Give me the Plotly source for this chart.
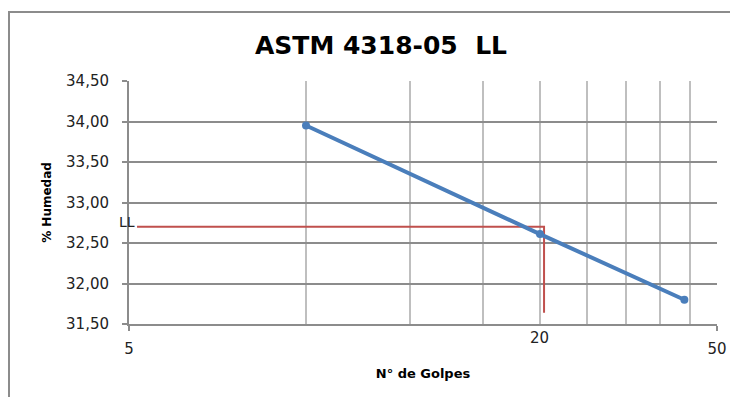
import math
import plotly.graph_objects as go

# Data
golpes = [10, 25, 44]
humedad = [33.95, 32.61, 31.80]

ll_x = [5.16, 25.4, 25.4]
ll_y = [32.70, 32.70, 31.64]

y_ticks = [31.5, 32.0, 32.5, 33.0, 33.5, 34.0, 34.5]
x_major = [5, 50]
x_major_text = ["5", "50"]
x_minor = [10, 15, 20, 25, 30, 35, 40, 45]
x_extra_label_pos = 25
x_extra_label_text = "20"

title_text = "ASTM 4318-05  LL"
x_title = "N° de Golpes"
y_title = "% Humedad"

fig = go.Figure()

fig.add_trace(go.Scatter(
    x=ll_x, y=ll_y, mode="lines",
    line=dict(color="#c0504d", width=2),
    hoverinfo="skip", showlegend=False,
))
fig.add_trace(go.Scatter(
    x=golpes, y=humedad, mode="lines+markers",
    line=dict(color="#4a7ebb", width=4),
    marker=dict(color="#4a7ebb", size=8),
    showlegend=False,
))

fig.update_layout(
    width=738, height=397,
    margin=dict(l=121, r=29, t=73, b=81),
    paper_bgcolor="white", plot_bgcolor="white",
    separators=",.",
    showlegend=False,
    title=dict(text="<b>" + title_text + "</b>", x=373 / 738, xanchor="center",
               y=1 - 37 / 397, yanchor="middle",
               font=dict(family="DejaVu Sans", size=25, color="black")),
    font=dict(family="DejaVu Sans", size=14, color="#222222"),
)

fig.update_xaxes(
    type="log", automargin=False,
    range=[math.log10(5), math.log10(50)],
    tickmode="array", tickvals=x_major, ticktext=x_major_text,
    ticks="outside", ticklen=5, tickcolor="#8c8c8c", tickwidth=2,
    showline=True, linecolor="#8c8c8c", linewidth=2,
    showgrid=True, gridcolor="#bfbfbf", gridwidth=2,
    tickfont=dict(family="DejaVu Sans", size=15, color="#222222"),
    ticklabelstandoff=5,
    minor=dict(tickmode="array", tickvals=x_minor, showgrid=True,
               gridcolor="#bfbfbf", gridwidth=2, ticks=""),
    zeroline=False,
    title=dict(text="<b>" + x_title + "</b>",
               font=dict(family="DejaVu Sans", size=13, color="black"),
               standoff=12),
)
fig.update_yaxes(
    automargin=False,
    range=[31.5, 34.5],
    tickmode="array", tickvals=y_ticks, tickformat=".2f",
    ticks="outside", ticklen=5, tickcolor="#8c8c8c", tickwidth=2,
    showline=True, linecolor="#8c8c8c", linewidth=2,
    showgrid=True, gridcolor="#8c8c8c", gridwidth=2,
    tickfont=dict(family="DejaVu Sans", size=15, color="#222222"),
    ticklabelstandoff=10,
    zeroline=False,
    title=dict(text="<b>" + y_title + "</b>",
               font=dict(family="DejaVu Sans", size=12, color="black"),
               standoff=12),
)

fig.add_annotation(
    x=math.log10(x_extra_label_pos), y=0, xref="x", yref="paper",
    text=x_extra_label_text, showarrow=False, yanchor="top", yshift=-3,
    font=dict(family="DejaVu Sans", size=15, color="#222222"),
)
fig.add_annotation(
    x=math.log10(ll_x[0]), y=ll_y[0], xref="x", yref="y",
    text="LL", showarrow=False, xanchor="right", yanchor="bottom",
    xshift=0, yshift=-5,
    font=dict(family="DejaVu Sans", size=14, color="#222222"),
)

fig.add_shape(type="rect", xref="paper", yref="paper",
              x0=-120 / 588, x1=1.1, y0=-0.45, y1=(324 - 12) / 243,
              line=dict(color="#8c8c8c", width=2), fillcolor="rgba(0,0,0,0)",
              layer="below")

fig.write_html("out.html")
